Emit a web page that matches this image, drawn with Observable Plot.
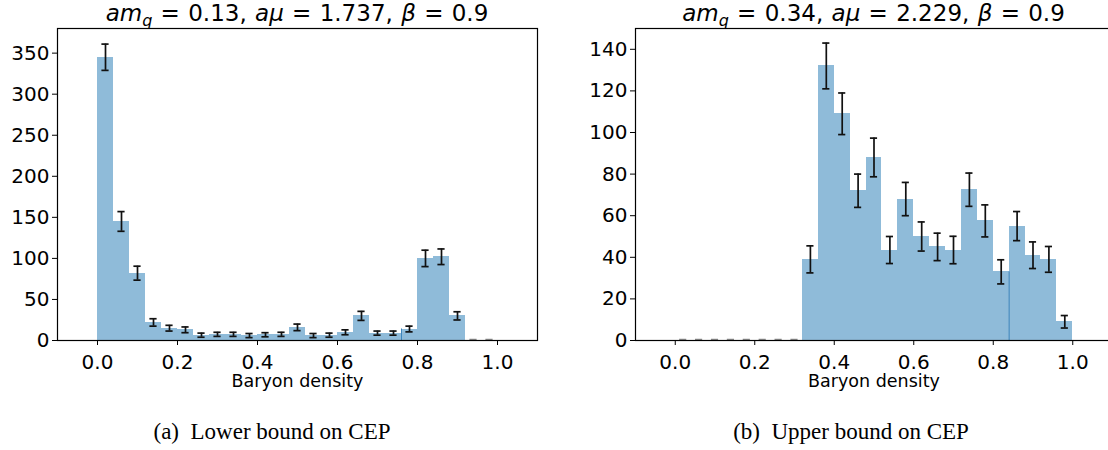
<!DOCTYPE html>
<html><head><meta charset="utf-8">
<script src="https://cdn.jsdelivr.net/npm/d3@7"></script>
<script src="https://cdn.jsdelivr.net/npm/@observablehq/plot@0.6"></script>
<style>
html,body{margin:0;padding:0;background:#fff;}
#wrap{position:relative;width:1108px;height:450px;overflow:hidden;background:#fff;}
.panel{position:absolute;top:0;}
.cap{position:absolute;font-family:"Liberation Serif","Times New Roman",serif;font-size:23px;line-height:23px;white-space:pre;transform:translateX(-50%);color:#000;}
</style></head><body>
<div id="wrap">
  <div id="pa" class="panel" style="left:0px;width:556px"></div>
  <div id="pb" class="panel" style="left:560px;width:552px"></div>
  <div id="capa" class="cap" style="left:272px;top:420px"></div>
  <div id="capb" class="cap" style="left:851px;top:420px"></div>
</div>
<script>
// ---- data ----
const binEdges = [0.00,0.04,0.08,0.12,0.16,0.20,0.24,0.28,0.32,0.36,0.40,0.44,0.48,0.52,0.56,0.60,0.64,0.68,0.72,0.76,0.80,0.84,0.88,0.92,0.96,1.00];
const countsA = [345,145,82,22,15,13,6.5,7.5,7.5,6,7,7.5,16,6,6.5,10,30,9,9,14,100,102,30,0,0];
const errorsA = [16,12,8.5,4.5,3.5,3.5,2.5,2.5,2.5,2.5,2.5,2.5,4,2.5,2.5,3,5.5,2.5,2.5,3.5,10,9.5,5,0,0];
const countsB = [0,0,0,0,0,0,0,0,39,132,109,72,88,43.5,68,50,45,43.5,72.5,57.5,33,55,41,39,9];
const errorsB = [0,0,0,0,0,0,0,0,6.5,11,10,8,9.3,6.5,8,7,6.6,6.6,8,7.7,5.8,7,6.4,6.2,3];
const edgeA = [{x:0.76, top:14}];
const edgeB = [{x:0.84, top:33}];
const xTicks = [0.0,0.2,0.4,0.6,0.8,1.0];
const yTicksA = [0,50,100,150,200,250,300,350];
const yTicksB = [0,20,40,60,80,100,120,140];
const amq = ["0.13","0.34"];
const amu = ["1.737","2.229"];
const beta = ["0.9","0.9"];
const xLabel = "Baryon density";
const captions = ["(a)  Lower bound on CEP","(b)  Upper bound on CEP"];

// ---- drawing ----
const capHalf = 0.009;
function panel(el, counts, errors, edge, yMax, yTicks, idx, opts) {
  const rows = counts.map((c,i)=>({x1:binEdges[i], x2:binEdges[i+1], xc:(binEdges[i]+binEdges[i+1])/2, c, e:errors[i]}));
  const nz = rows.filter(d=>d.c>0||d.e>0);
  const zs = rows.filter(d=>!(d.c>0||d.e>0));
  const {width, marginLeft, marginRight} = opts;
  const svg = Plot.plot({
    width, height: 400, marginLeft, marginRight, marginTop: 28, marginBottom: 60,
    style: {fontFamily: "'DejaVu Sans', sans-serif", fontSize: "20px", color: "#000", background: "transparent", overflow: "visible"},
    x: {domain: [-0.1, 1.1], ticks: xTicks, tickFormat: d3.format(".1f"), tickSize: 5, tickPadding: 9, label: null},
    y: {domain: [0, yMax], ticks: yTicks, tickSize: 5, tickPadding: 3, label: null},
    marks: [
      Plot.rectY(rows, {x1:"x1", x2:"x2", y:"c", fill:"#8fbbd9", shapeRendering:"crispEdges"}),
      Plot.ruleX(edge, {x:"x", y1:0, y2:"top", stroke:"#3d85bd", strokeWidth:1}),
      Plot.ruleY(zs, {y:0, x1:d=>d.xc-capHalf, x2:d=>d.xc+capHalf, stroke:"#888", strokeWidth:1.5, dy:-1}),
      Plot.frame({stroke:"#000", strokeWidth:1.2}),
      Plot.ruleX(nz, {x:"xc", y1:d=>d.c-d.e, y2:d=>d.c+d.e, stroke:"#111", strokeWidth:1.7}),
      Plot.ruleY(nz, {y:d=>d.c+d.e, x1:d=>d.xc-capHalf, x2:d=>d.xc+capHalf, stroke:"#111", strokeWidth:1.7}),
      Plot.ruleY(nz, {y:d=>d.c-d.e, x1:d=>d.xc-capHalf, x2:d=>d.xc+capHalf, stroke:"#111", strokeWidth:1.7}),
      Plot.text([xLabel], {text:d=>d, frameAnchor:"bottom", dy:46, fontSize:17.5, fill:"#000"})
    ]
  });
  const cx = marginLeft + (width - marginLeft - marginRight)/2;
  const t = d3.select(svg).append("text").attr("x", cx).attr("y", 21)
    .attr("text-anchor","middle").attr("fill","#000")
    .style("font-family","'DejaVu Sans', sans-serif").style("font-size","23px").style("word-spacing","1px");
  t.append("tspan").attr("font-style","italic").text("am");
  t.append("tspan").attr("font-style","italic").attr("font-size","16px").attr("dy",4.5).text("q");
  t.append("tspan").attr("dy",-4.5).text(" = " + amq[idx] + ", ");
  t.append("tspan").attr("font-style","italic").text("aμ");
  t.append("tspan").text(" = " + amu[idx] + ", ");
  t.append("tspan").attr("font-style","italic").text("β");
  t.append("tspan").text(" = " + beta[idx]);
  document.getElementById(el).appendChild(svg);
}
panel("pa", countsA, errorsA, edgeA, 380, yTicksA, 0, {width:556, marginLeft:57, marginRight:19});
panel("pb", countsB, errorsB, edgeB, 150, yTicksB, 1, {width:552, marginLeft:75, marginRight:0});
document.getElementById("capa").textContent = captions[0];
document.getElementById("capb").textContent = captions[1];
</script>
</body></html>
